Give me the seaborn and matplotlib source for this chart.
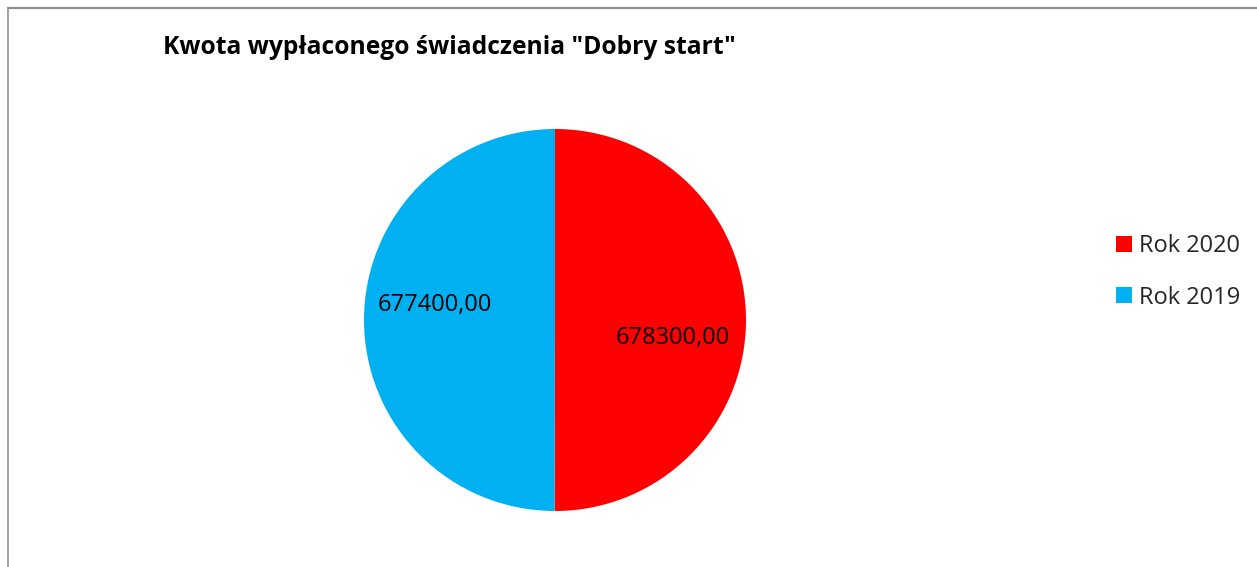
import matplotlib
matplotlib.use("Agg")
import matplotlib.pyplot as plt
import seaborn as sns
from matplotlib.lines import Line2D
from matplotlib.patches import Patch

# Dane
lata = ["Rok 2020", "Rok 2019"]
kwoty = [678300.00, 677400.00]
etykiety = ["678300,00", "677400,00"]
kolory = ["#FF0000", "#00B0F0"]

sns.set_theme(style="white")
plt.rcParams['font.family'] = ['Open Sans', 'DejaVu Sans']

W, H = 1257, 567
fig = plt.figure(figsize=(W / 100, H / 100), dpi=100)
fig.patch.set_facecolor("white")

# Ramka wykresu (lewa i górna krawędź)
fig.add_artist(Line2D([8 / W, 8 / W], [0, 1 - 8 / H], color="#A6A6A6", lw=1.5))
fig.add_artist(Line2D([8 / W, 1], [1 - 8 / H, 1 - 8 / H], color="#8C8C8C", lw=1.5))

# Wykres kołowy
cx, cy, r = 555, 320, 191
ax = fig.add_axes([(cx - r) / W, (H - cy - r) / H, 2 * r / W, 2 * r / H])
paleta = sns.color_palette(kolory)
wedges, _ = ax.pie(kwoty, colors=paleta, startangle=90, counterclock=False,
                   wedgeprops=dict(linewidth=0))
ax.set_xlim(-1, 1)
ax.set_ylim(-1, 1)
ax.set_aspect("equal")
ax.axis("off")

# Etykiety danych
pozycje = [(0.615, -0.094), (-0.63, 0.079)]
for (x, y), txt in zip(pozycje, etykiety):
    ax.text(x, y, txt, ha="center", va="center", fontsize=17, color="black")

# Tytuł
fig.text(163 / W, 1 - 48 / H, 'Kwota wypłaconego świadczenia "Dobry start"',
         fontsize=17.7, fontweight="bold", ha="left", va="center", color="black")

# Legenda
uchwyty = [Patch(facecolor=c, edgecolor="none") for c in paleta]
fig.legend(uchwyty, lata, loc="center left", bbox_to_anchor=(1095 / W, 1 - 272 / H),
           frameon=False, fontsize=17, handlelength=0.65, handleheight=0.65,
           handletextpad=0.3, labelspacing=1.15)

fig.savefig("out.png", dpi=100)
